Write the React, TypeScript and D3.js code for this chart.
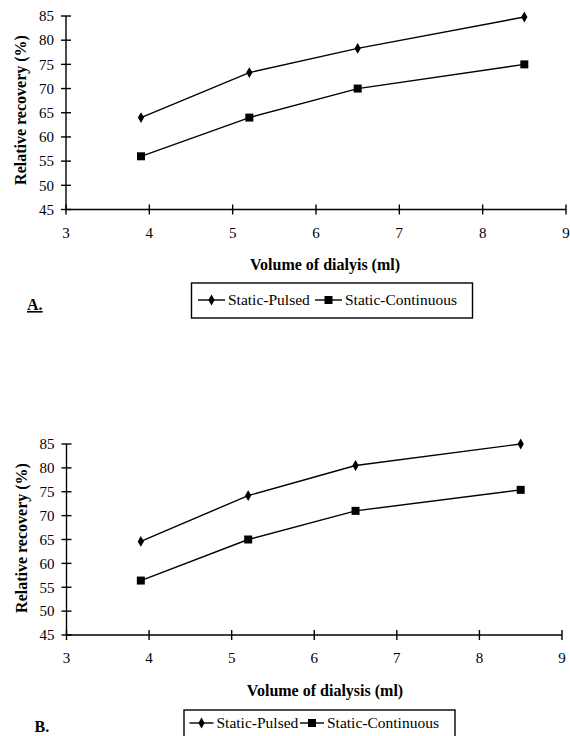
import React, { useEffect, useRef } from 'react';
import * as d3 from 'd3';

// volume of dialysis (ml)
const volumes = [3.9, 5.2, 6.5, 8.5];
const xTicks = [3, 4, 5, 6, 7, 8, 9];
const yTicks = [45, 50, 55, 60, 65, 70, 75, 80, 85];

// panel A
const pulsedA = [64, 73.3, 78.3, 84.8];
const continuousA = [56, 64, 70, 75];
// panel B
const pulsedB = [64.6, 74.2, 80.5, 85];
const continuousB = [56.4, 65, 71, 75.4];

const seriesNames = ['Static-Pulsed', 'Static-Continuous'];

const panels = [
    {
        label: 'A.', underline: true, xTitle: 'Volume of dialyis (ml)',
        pulsed: pulsedA, continuous: continuousA,
        x0: 66, x1: 566, yTop: 16, yBottom: 209.5,
        tickLabelY: 233, titleY: 264, yTitleX: 20, yTitleY: 110,
        legend: { x: 191.5, y: 283, w: 281, h: 35, cy: 300, item1: 198, item2: 315, len: 27 },
        labelPos: [27, 310]
    },
    {
        label: 'B.', underline: false, xTitle: 'Volume of dialysis (ml)',
        pulsed: pulsedB, continuous: continuousB,
        x0: 66.5, x1: 562, yTop: 444, yBottom: 635,
        tickLabelY: 658, titleY: 690, yTitleX: 21, yTitleY: 538,
        legend: { x: 184, y: 710, w: 271, h: 36, cy: 723, item1: 189.5, item2: 300, len: 24 },
        labelPos: [34.5, 732]
    }
];

const font = 'Liberation Serif, DejaVu Serif, serif';

const App = () => {
    const svgRef = useRef<SVGSVGElement>(null);

    useEffect(() => {
        document.body.style.margin = '0';
        const svg = d3.select(svgRef.current);
        svg.selectAll('*').remove();
        svg.append('rect').attr('width', 570).attr('height', 736).attr('fill', '#fff');

        const diamond = d3.symbol().type(d3.symbolDiamond).size(34);

        panels.forEach(p => {
            const x = d3.scaleLinear().domain([3, 9]).range([p.x0, p.x1]);
            const y = d3.scaleLinear().domain([45, 85]).range([p.yBottom, p.yTop]);
            const g = svg.append('g').style('font-family', font).attr('fill', '#000');

            // axes
            g.append('line').attr('x1', x(3)).attr('x2', x(9)).attr('y1', y(45)).attr('y2', y(45))
                .attr('stroke', '#000').attr('stroke-width', 1.4);
            g.append('line').attr('x1', x(3)).attr('x2', x(3)).attr('y1', y(45)).attr('y2', y(85))
                .attr('stroke', '#000').attr('stroke-width', 1.4);

            xTicks.forEach(t => {
                g.append('line').attr('x1', x(t)).attr('x2', x(t))
                    .attr('y1', y(45) - 5).attr('y2', y(45) + 5)
                    .attr('stroke', '#000').attr('stroke-width', 1.4);
                g.append('text').attr('x', x(t)).attr('y', p.tickLabelY).attr('dy', '0.35em')
                    .attr('text-anchor', 'middle').attr('font-size', 15).text(t);
            });
            yTicks.forEach(t => {
                g.append('line').attr('x1', x(3) - 5).attr('x2', x(3) + 5)
                    .attr('y1', y(t)).attr('y2', y(t))
                    .attr('stroke', '#000').attr('stroke-width', 1.4);
                g.append('text').attr('x', x(3) - 12).attr('y', y(t)).attr('dy', '0.35em')
                    .attr('text-anchor', 'end').attr('font-size', 15).text(t);
            });

            // titles
            g.append('text').attr('x', 325).attr('y', p.titleY).attr('dy', '0.35em')
                .attr('text-anchor', 'middle').attr('font-size', 16).attr('font-weight', 'bold')
                .text(p.xTitle);
            g.append('text')
                .attr('transform', `translate(${p.yTitleX},${p.yTitleY}) rotate(-90)`)
                .attr('dy', '0.35em').attr('text-anchor', 'middle')
                .attr('font-size', 16).attr('font-weight', 'bold')
                .text('Relative recovery (%)');

            // lines
            const line = d3.line<number>().x((d, i) => x(volumes[i])).y(d => y(d));
            [p.pulsed, p.continuous].forEach(vals => {
                g.append('path').attr('d', line(vals)).attr('fill', 'none')
                    .attr('stroke', '#000').attr('stroke-width', 1.4);
            });
            p.pulsed.forEach((v, i) => {
                g.append('path').attr('d', diamond()).attr('transform', `translate(${x(volumes[i])},${y(v)})`);
            });
            p.continuous.forEach((v, i) => {
                g.append('rect').attr('x', x(volumes[i]) - 4).attr('y', y(v) - 4)
                    .attr('width', 8).attr('height', 8);
            });

            // legend
            const L = p.legend;
            g.append('rect').attr('x', L.x).attr('y', L.y).attr('width', L.w).attr('height', L.h)
                .attr('fill', 'none').attr('stroke', '#000').attr('stroke-width', 1.4);
            const items = [
                { x: L.item1, name: seriesNames[0] },
                { x: L.item2, name: seriesNames[1] }
            ];
            items.forEach((it, i) => {
                g.append('line').attr('x1', it.x).attr('x2', it.x + L.len).attr('y1', L.cy).attr('y2', L.cy)
                    .attr('stroke', '#000').attr('stroke-width', 1.4);
                if (i === 0) {
                    g.append('path').attr('d', diamond()).attr('transform', `translate(${it.x + L.len / 2},${L.cy})`);
                } else {
                    g.append('rect').attr('x', it.x + L.len / 2 - 4).attr('y', L.cy - 4).attr('width', 8).attr('height', 8);
                }
                g.append('text').attr('x', it.x + L.len + 3).attr('y', L.cy).attr('dy', '0.35em')
                    .attr('font-size', 15.5).text(it.name);
            });

            // panel label
            g.append('text').attr('x', p.labelPos[0]).attr('y', p.labelPos[1])
                .attr('font-size', 16).attr('font-weight', 'bold')
                .attr('text-decoration', p.underline ? 'underline' : 'none')
                .text(p.label);
        });
    }, []);

    return <svg ref={svgRef} width={570} height={736} style={{ display: 'block' }}></svg>;
};

export default App;
